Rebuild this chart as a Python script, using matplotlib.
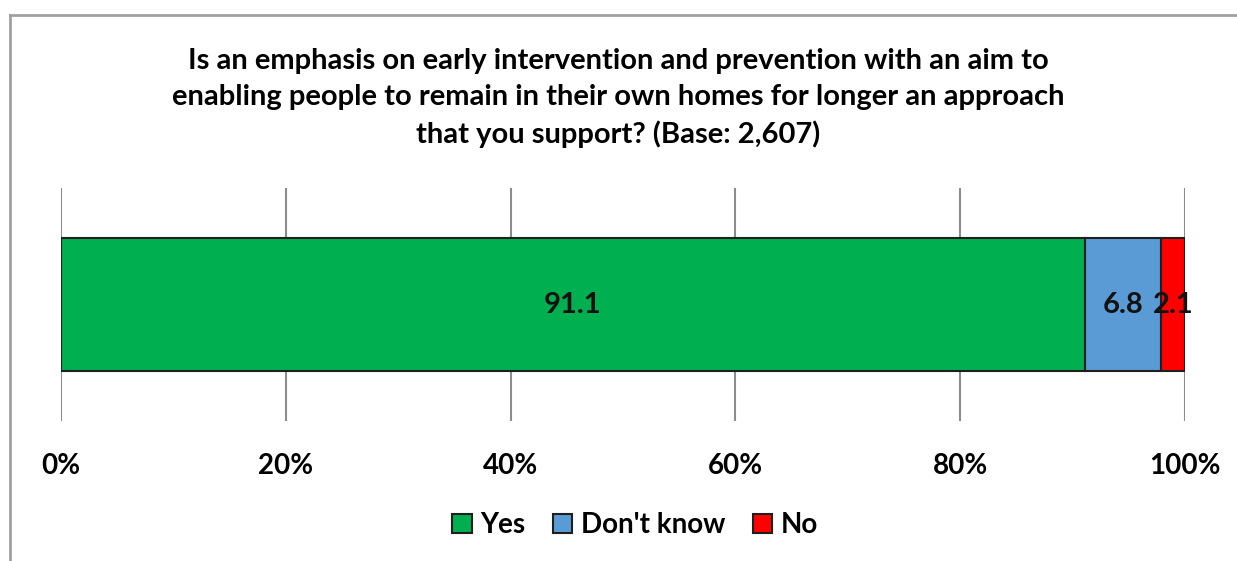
import matplotlib.pyplot as plt
from matplotlib.lines import Line2D

title = ("Is an emphasis on early intervention and prevention with an aim to\n"
         "enabling people to remain in their own homes for longer an approach\n"
         "that you support? (Base: 2,607)")
categories = ["Yes", "Don't know", "No"]
values = [91.1, 6.8, 2.1]
colors = ["#00B050", "#5B9BD5", "#FF0000"]
ticks = [0, 20, 40, 60, 80, 100]
tick_labels = ["0%", "20%", "40%", "60%", "80%", "100%"]

plt.rcParams['font.family'] = ['Lato', 'DejaVu Sans']

W, H = 1237, 561
fig = plt.figure(figsize=(W / 100, H / 100), dpi=100)
ax = fig.add_axes([61 / W, 1 - 421 / H, (1185 - 61) / W, (421 - 188) / H])

# stacked horizontal bar
left = 0
for cat, val, col in zip(categories, values, colors):
    ax.barh(0, val, left=left, height=0.575, color=col, edgecolor="#1f1f1f",
            linewidth=1.5, label=cat, zorder=3)
    ax.text(left + val / 2, 0, f"{val:.1f}", ha="center", va="center",
            fontsize=21, fontweight="bold", color="#111111", zorder=4)
    left += val

ax.set_xlim(0, 100)
ax.set_ylim(-0.5, 0.5)
ax.set_xticks(ticks)
ax.set_xticklabels(tick_labels, fontsize=20, fontweight="bold")
ax.set_yticks([])
ax.tick_params(axis="x", length=0, pad=23)
ax.grid(axis="x", color="#8c8c8c", linewidth=1.5, zorder=0)
for s in ax.spines.values():
    s.set_visible(False)

fig.text(0.5, 1 - 98 / H, title, ha="center", va="center", fontsize=21,
         fontweight="bold", linespacing=1.45)

leg = ax.legend(loc="center", bbox_to_anchor=(635 / W, 1 - 525 / H), bbox_transform=fig.transFigure,
                ncol=3, frameon=False, fontsize=20, handlelength=0.7, handleheight=0.7,
                handletextpad=0.3, columnspacing=1.0)
for t in leg.get_texts():
    t.set_fontweight("bold")

# outer chart frame (left and top edges only visible)
fig.add_artist(Line2D([10 / W, 10 / W], [0, 1 - 15 / H], transform=fig.transFigure,
                      color="#a0a0a0", linewidth=2))
fig.add_artist(Line2D([10 / W, 1], [1 - 15 / H, 1 - 15 / H], transform=fig.transFigure,
                      color="#a0a0a0", linewidth=2))

fig.savefig("out.png", dpi=100)
